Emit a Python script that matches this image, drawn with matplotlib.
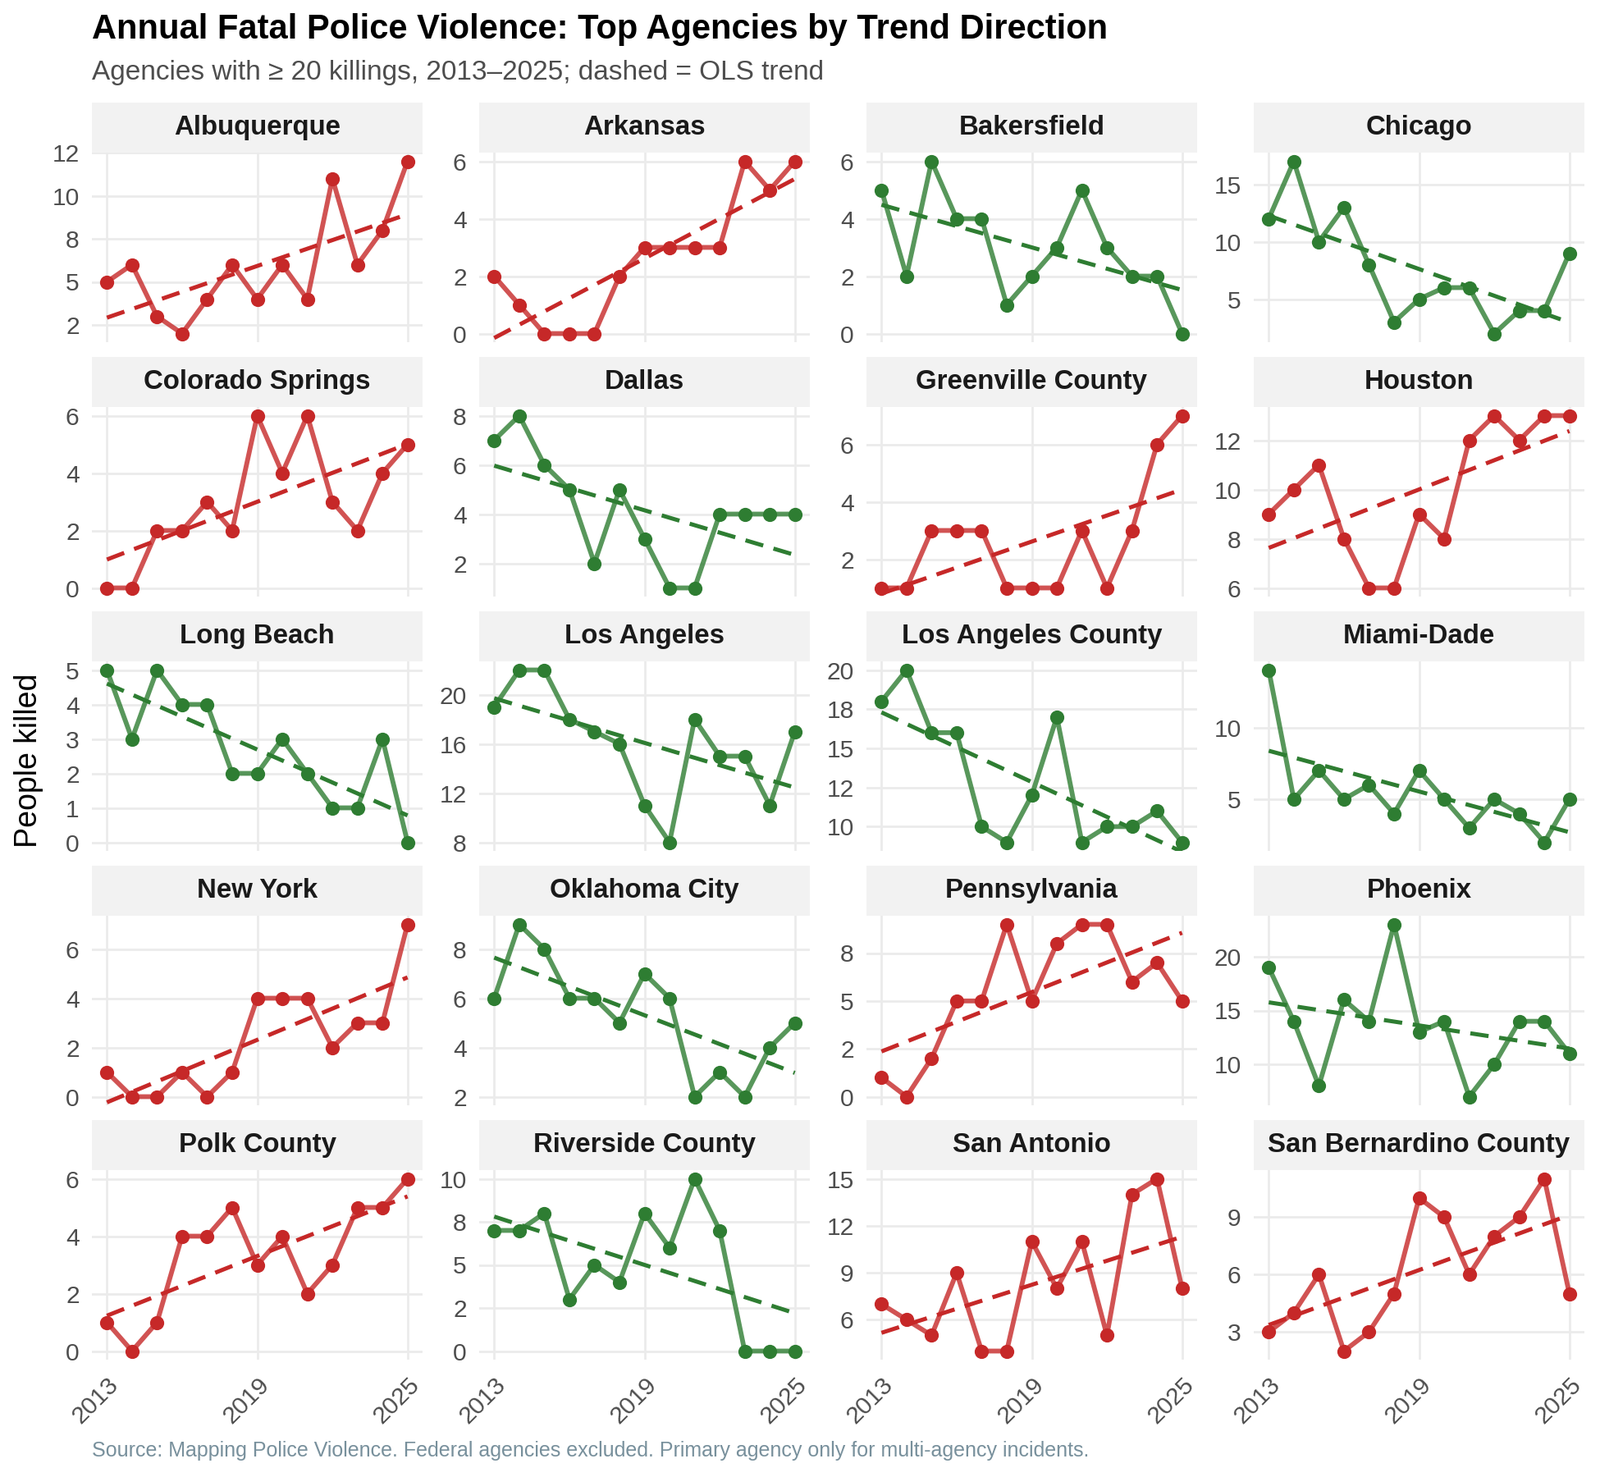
import numpy as np
import matplotlib
matplotlib.use("Agg")
import matplotlib.pyplot as plt
from matplotlib.patches import Rectangle

plt.rcParams['font.family'] = ['Liberation Sans', 'DejaVu Sans']

years = np.arange(2013, 2026)

albuquerque = [5, 6, 3, 2, 4, 6, 4, 6, 4, 11, 6, 8, 12]
arkansas = [2, 1, 0, 0, 0, 2, 3, 3, 3, 3, 6, 5, 6]
bakersfield = [5, 2, 6, 4, 4, 1, 2, 3, 5, 3, 2, 2, 0]
chicago = [12, 17, 10, 13, 8, 3, 5, 6, 6, 2, 4, 4, 9]
colorado_springs = [0, 0, 2, 2, 3, 2, 6, 4, 6, 3, 2, 4, 5]
dallas = [7, 8, 6, 5, 2, 5, 3, 1, 1, 4, 4, 4, 4]
greenville_county = [1, 1, 3, 3, 3, 1, 1, 1, 3, 1, 3, 6, 7]
houston = [9, 10, 11, 8, 6, 6, 9, 8, 12, 13, 12, 13, 13]
long_beach = [5, 3, 5, 4, 4, 2, 2, 3, 2, 1, 1, 3, 0]
los_angeles = [19, 22, 22, 18, 17, 16, 11, 8, 18, 15, 15, 11, 17]
los_angeles_county = [18, 20, 16, 16, 10, 9, 12, 17, 9, 10, 10, 11, 9]
miami_dade = [14, 5, 7, 5, 6, 4, 7, 5, 3, 5, 4, 2, 5]
new_york = [1, 0, 0, 1, 0, 1, 4, 4, 4, 2, 3, 3, 7]
oklahoma_city = [6, 9, 8, 6, 6, 5, 7, 6, 2, 3, 2, 4, 5]
pennsylvania = [1, 0, 2, 5, 5, 9, 5, 8, 9, 9, 6, 7, 5]
phoenix = [19, 14, 8, 16, 14, 23, 13, 14, 7, 10, 14, 14, 11]
polk_county = [1, 0, 1, 4, 4, 5, 3, 4, 2, 3, 5, 5, 6]
riverside_county = [7, 7, 8, 3, 5, 4, 8, 6, 10, 7, 0, 0, 0]
san_antonio = [7, 6, 5, 9, 4, 4, 11, 8, 11, 5, 14, 15, 8]
san_bernardino_county = [3, 4, 6, 2, 3, 5, 10, 9, 6, 8, 9, 11, 5]

agencies = ["Albuquerque", "Arkansas", "Bakersfield", "Chicago",
            "Colorado Springs", "Dallas", "Greenville County", "Houston",
            "Long Beach", "Los Angeles", "Los Angeles County", "Miami-Dade",
            "New York", "Oklahoma City", "Pennsylvania", "Phoenix",
            "Polk County", "Riverside County", "San Antonio",
            "San Bernardino County"]
series = [albuquerque, arkansas, bakersfield, chicago,
          colorado_springs, dallas, greenville_county, houston,
          long_beach, los_angeles, los_angeles_county, miami_dade,
          new_york, oklahoma_city, pennsylvania, phoenix,
          polk_county, riverside_county, san_antonio, san_bernardino_county]

# y breaks per panel (labels are printed as whole numbers)
y_breaks = [[2.5, 5, 7.5, 10, 12.5], [0, 2, 4, 6], [0, 2, 4, 6], [5, 10, 15],
            [0, 2, 4, 6], [2, 4, 6, 8], [2, 4, 6], [6, 8, 10, 12],
            [0, 1, 2, 3, 4, 5], [8, 12, 16, 20], [10, 12.5, 15, 17.5, 20], [5, 10],
            [0, 2, 4, 6], [2, 4, 6, 8], [0, 2.5, 5, 7.5], [10, 15, 20],
            [0, 2, 4, 6], [0, 2.5, 5, 7.5, 10], [6, 9, 12, 15], [3, 6, 9]]
x_breaks = [2013, 2019, 2025]

RED = '#c62828'
GREEN = '#2e7d32'

W, H = 1950, 1800
fig = plt.figure(figsize=(W / 200, H / 200), dpi=200)

left0, col_w, col_gap = 112, 403, 69
top0, row_pitch, strip_h, panel_h = 125, 310, 61, 231

for i, (name, vals) in enumerate(zip(agencies, series)):
    r, c = divmod(i, 4)
    x0 = left0 + c * (col_w + col_gap)
    y_top = top0 + r * row_pitch + strip_h
    ax = fig.add_axes([x0 / W, 1 - (y_top + panel_h) / H, col_w / W, panel_h / H])

    vals = np.array(vals, dtype=float)
    slope, icept = np.polyfit(years, vals, 1)
    col = RED if slope > 0 else GREEN

    ax.plot(years, vals, color=col, lw=2.1, alpha=0.8, zorder=3,
            solid_joinstyle='round')
    ax.plot(years, vals, 'o', color=col, ms=5.2, zorder=4)
    ax.plot(years, slope * years + icept, color=col, lw=1.8,
            ls=(0, (4.5, 2.6)), zorder=5)

    lo, hi = vals.min(), vals.max()
    pad = 0.05 * (hi - lo)
    ax.set_ylim(lo - pad, hi + pad)
    ax.set_xlim(2013 - 0.6, 2025 + 0.6)

    ax.set_yticks(y_breaks[i])
    ax.set_yticklabels([f'{b:.0f}' for b in y_breaks[i]])
    ax.set_xticks(x_breaks)
    ax.set_xticklabels([str(x) for x in x_breaks], rotation=45, ha='right',
                       va='top', rotation_mode='anchor')

    for s in ax.spines.values():
        s.set_visible(False)
    ax.grid(True, color='#ebebeb', lw=1.0, zorder=0)
    ax.set_axisbelow(True)
    ax.tick_params(length=0, labelsize=10.8, labelcolor='#4d4d4d')
    ax.tick_params(axis='y', pad=5.5)
    ax.tick_params(axis='x', pad=6)
    if r < 4:
        ax.tick_params(axis='x', labelbottom=False)

    sh = strip_h / panel_h
    ax.add_patch(Rectangle((0, 1), 1, sh, transform=ax.transAxes,
                           facecolor='#f2f2f2', edgecolor='none', clip_on=False))
    ax.text(0.5, 1 + sh / 2, name, transform=ax.transAxes, ha='center',
            va='center', fontsize=11.9, fontweight='bold', color='#1a1a1a')

fig.text(112 / W, 1 - 47 / H,
         'Annual Fatal Police Violence: Top Agencies by Trend Direction',
         fontsize=15, fontweight='bold', color='black', va='baseline')
fig.text(112 / W, 1 - 97 / H,
         'Agencies with \u2265 20 killings, 2013\u20132025; dashed = OLS trend',
         fontsize=12, color='#4d4d4d', va='baseline')
fig.text(35 / W, 1 - 927 / H, 'People killed', rotation=90, ha='center',
         va='center', fontsize=13.5, color='black')
fig.text(112 / W, 1 - 1775 / H,
         'Source: Mapping Police Violence. Federal agencies excluded. '
         'Primary agency only for multi-agency incidents.',
         fontsize=9.0, color='#78909c', va='baseline')

fig.savefig('out.png', dpi=200, facecolor='white')
